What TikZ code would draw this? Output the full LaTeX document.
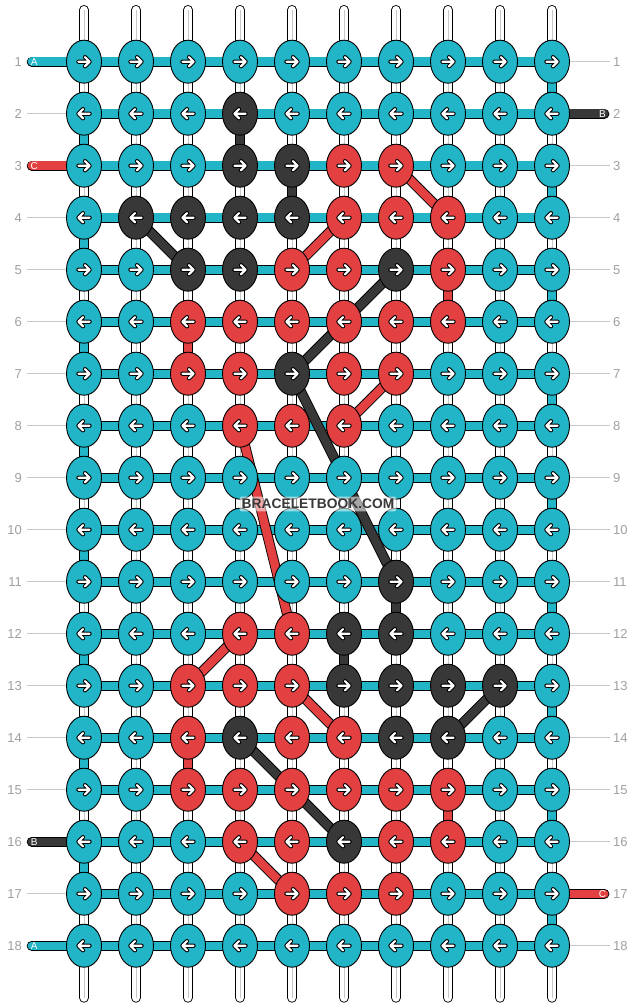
\documentclass[tikz,border=0pt]{standalone}
\usepackage{fontspec}
\setmainfont{Liberation Sans}
\usetikzlibrary{shapes.geometric, backgrounds}

\definecolor{strA}{RGB}{33,181,199}
\definecolor{strB}{RGB}{56,56,56}
\definecolor{strC}{RGB}{226,64,65}
\definecolor{labelgray}{RGB}{160,160,160}
\definecolor{guidegray}{RGB}{200,200,200}

\tikzset{
  pics/knotarrow/.style={code={
    \draw[arrowmark] (-5.6,0) -- (5.6,0) (1,-4.6) -- (5.6,0) -- (1,4.6);
  }}
}

\begin{document}
\begin{tikzpicture}[x=1pt, y=-1pt,
  knot/.style={ellipse, draw=black, line width=0.9pt, minimum width=35pt, minimum height=43pt, inner sep=0pt},
  warp/.style={draw=black, line width=0.9pt, double=white, double distance=8.4pt, line cap=round},
  strand/.style={draw=black, line width=0.9pt, double=#1, double distance=8.4pt},
  tagbar/.style={strand=#1, line cap=round},
  arrowmark/.style={white, line width=2.2pt, line cap=round, line join=round,
    preaction={draw=black, line width=4.2pt, line cap=round, line join=round}},
  rownum/.style={text=labelgray, font=\fontsize{13}{15}\selectfont, inner sep=0pt},
  tagtext/.style={text=white, font=\fontsize{10}{12}\selectfont, inner sep=0pt},
  guide/.style={guidegray, line width=0.9pt}
]
\path[use as bounding box] (0,0) rectangle (636,1008);

% knots, row by row (A cyan, B dark, C red)
\foreach \ri/\row in {
  1/{A,A,A,A,A,A,A,A,A,A},
  2/{A,A,A,B,A,A,A,A,A,A},
  3/{A,A,A,B,B,C,C,A,A,A},
  4/{A,B,B,B,B,C,C,C,A,A},
  5/{A,A,B,B,C,C,B,C,A,A},
  6/{A,A,C,C,C,C,C,C,A,A},
  7/{A,A,C,C,B,C,C,A,A,A},
  8/{A,A,A,C,C,C,A,A,A,A},
  9/{A,A,A,A,A,A,A,A,A,A},
  10/{A,A,A,A,A,A,A,A,A,A},
  11/{A,A,A,A,A,A,B,A,A,A},
  12/{A,A,A,C,C,B,B,A,A,A},
  13/{A,A,C,C,C,B,B,B,B,A},
  14/{A,A,C,B,C,C,B,B,A,A},
  15/{A,A,C,C,C,C,C,C,A,A},
  16/{A,A,A,C,C,B,C,C,A,A},
  17/{A,A,A,A,C,C,C,A,A,A},
  18/{A,A,A,A,A,A,A,A,A,A}}{
  \foreach \ks [count=\ci] in \row {
    \node[knot, fill=str\ks] (k-\ri-\ci) at ({84+52*(\ci-1)}, {61.7+52*(\ri-1)}) {};
    \ifodd\ri\relax \pic at (k-\ri-\ci) {knotarrow};
    \else \pic[xscale=-1] at (k-\ri-\ci) {knotarrow};
    \fi
  }
}

% row numbers
\foreach \ri in {1,...,18} {
  \node[rownum, anchor=east] (nl-\ri) at (22, {61.7+52*(\ri-1)}) {\ri};
  \node[rownum, anchor=west] (nr-\ri) at (613, {61.7+52*(\ri-1)}) {\ri};
}
\foreach \ri in {2,4,5,6,7,8,9,10,11,12,13,14,15,17}
  \draw[guide, shorten <=5pt] (nl-\ri.east) -- (k-\ri-1.west);
\foreach \ri in {1,3,4,5,6,7,8,9,10,11,12,13,14,15,16,18}
  \draw[guide, shorten >=3pt] (k-\ri-10.east) -- (nr-\ri.west);

% string tags
\foreach \ri/\ks in {1/A, 3/C, 16/B, 18/A} {
  \coordinate (tl-\ri) at (31.8, {61.7+52*(\ri-1)});
  \node[tagtext] (tag-l\ri) at (34.3, {61.7+52*(\ri-1)}) {\ks};
}
\foreach \ri/\ks in {2/B, 17/C} {
  \coordinate (tr-\ri) at (604.3, {61.7+52*(\ri-1)});
  \node[tagtext] (tag-r\ri) at (602.5, {61.7+52*(\ri-1)}) {\ks};
}

\node[font=\bfseries\fontsize{13.8}{15}\selectfont, text=strB, fill=white, fill opacity=0.55, text opacity=1,
  rounded corners=2pt, inner xsep=2pt, inner ysep=2.5pt] (mark) at (318, 504) {BRACELETBOOK.COM};

\begin{scope}[on background layer]
  \fill[white] (0,0) rectangle (636,1008);
  % warp strings
  \foreach \ci in {1,...,10} {
    \coordinate (top-\ci) at ({84+52*(\ci-1)}, 10.1);
    \coordinate (bot-\ci) at ({84+52*(\ci-1)}, 997.6);
    \draw[warp] (top-\ci) -- (bot-\ci);
    \draw[guidegray, line width=0.8pt] (top-\ci) -- (bot-\ci);
  }
  % working rows and turns at the edges
  \foreach \ri in {1,...,18}
    \draw[strand=strA] (k-\ri-1.center) -- (k-\ri-10.center);
  \foreach \ri [evaluate=\ri as \rn using int(\ri+1)] in {1,3,...,17}
    \draw[strand=strA] (k-\ri-10.center) -- (k-\rn-10.center);
  \foreach \ri [evaluate=\ri as \rn using int(\ri+1)] in {2,4,...,16}
    \draw[strand=strA] (k-\ri-1.center) -- (k-\rn-1.center);
  % tags
  \foreach \ri/\ks in {1/A, 3/C, 16/B, 18/A}
    \draw[tagbar=str\ks] (tl-\ri) -- (k-\ri-1.center);
  \foreach \ri/\ks in {2/B, 17/C}
    \draw[tagbar=str\ks] (tr-\ri) -- (k-\ri-10.center);
  % colour strands
  \foreach \p/\q/\ks in {2-4/3-4/B, 3-5/4-5/B, 5-8/6-8/C, 6-3/7-3/C,
      11-7/12-7/B, 12-6/13-6/B, 14-3/15-3/C, 15-8/16-8/C,
      4-2/5-3/B, 3-7/4-8/C, 5-5/4-6/C, 5-7/7-5/B, 7-7/8-6/C,
      7-5/11-7/B, 8-4/12-5/C, 12-4/13-3/C, 13-5/14-6/C,
      13-9/14-8/B, 14-4/16-6/B, 16-4/17-5/C}
    \draw[strand=str\ks] (k-\p.center) -- (k-\q.center);
\end{scope}
\end{tikzpicture}
\end{document}
